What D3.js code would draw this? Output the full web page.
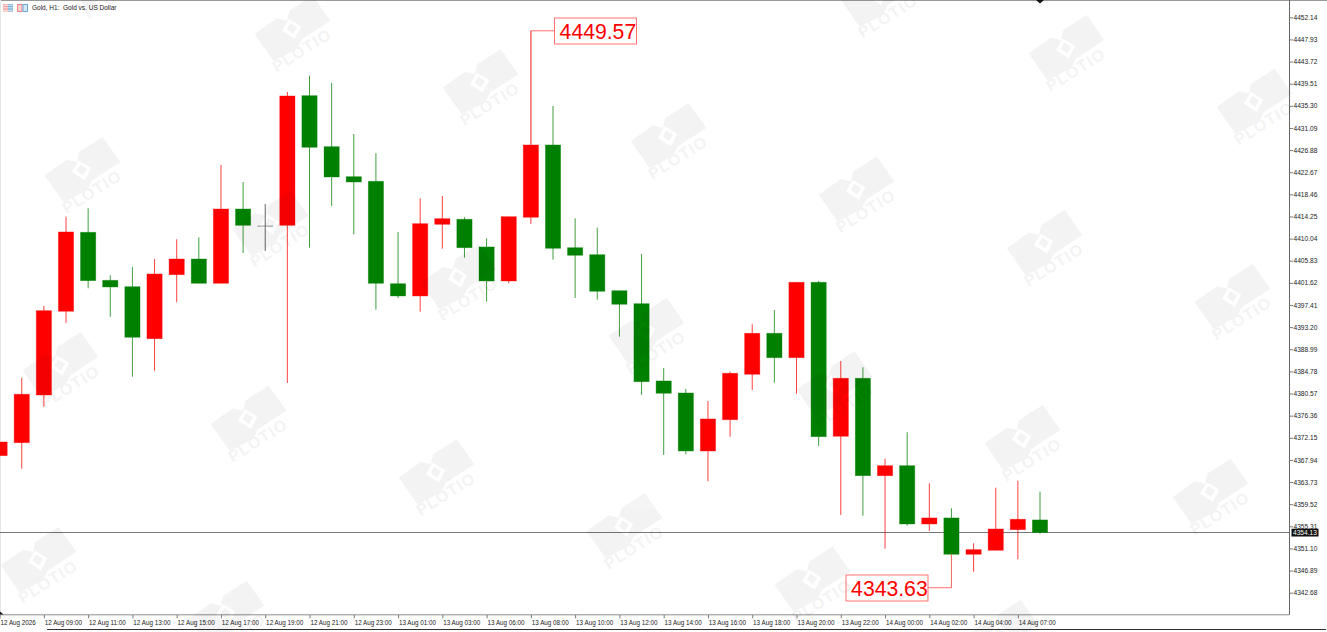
<!DOCTYPE html>
<html lang="en">
	<head>
		<meta charset="utf-8">
		<title>Gold, H1</title>
		<script src="https://cdn.jsdelivr.net/npm/d3@7"></script>
		<style type="text/css">
			html, body { margin: 0; padding: 0; background: #fff; overflow: hidden; }
			svg { display: block; }
			text { font-family: "Liberation Sans", Arial, sans-serif; }
			.axis text { font-size: 6.6px; fill: #222; }
			.xaxis text { font-size: 6.3px; }
			.axis line { stroke: #555; stroke-width: 0.8; }
			.axis path { display: none; }
		</style>
	</head>
	<body>
		<div id="chart"></div>
		<script type="text/javascript">

			// values, one candle per hour
			var opens = [4368.75, 4371.22, 4380.29, 4396.22, 4411.24, 4402.11, 4400.89, 4391.00, 4403.18, 4406.16,
				4401.54, 4415.67, 4412.44, 4412.57, 4437.23, 4427.53, 4421.82, 4420.94, 4401.46, 4399.13,
				4412.76, 4413.72, 4408.45, 4401.98, 4414.10, 4427.85, 4408.31, 4406.98, 4400.13, 4397.66,
				4382.96, 4380.67, 4369.64, 4375.59, 4384.23, 4392.03, 4387.39, 4401.73, 4372.44, 4383.47,
				4364.94, 4366.84, 4355.75, 4356.90, 4349.99, 4350.75, 4354.67, 4356.52];
			var closes = [4371.35, 4380.43, 4396.33, 4411.30, 4402.04, 4400.84, 4391.27, 4403.31, 4406.16, 4401.54,
				4415.67, 4412.57, 4412.44, 4437.17, 4427.41, 4421.76, 4420.81, 4401.54, 4399.13, 4412.88,
				4413.83, 4408.31, 4401.98, 4414.21, 4427.85, 4408.20, 4406.87, 4400.02, 4397.55, 4382.82,
				4380.62, 4369.64, 4375.73, 4384.42, 4392.03, 4387.39, 4401.73, 4372.36, 4383.47, 4364.94,
				4366.84, 4355.75, 4356.90, 4349.99, 4350.87, 4354.80, 4356.65, 4354.13];
			var highs = [4371.35, 4383.58, 4397.22, 4414.21, 4415.81, 4403.06, 4404.64, 4406.16, 4409.91, 4410.29,
				4424.04, 4420.81, 4416.63, 4437.93, 4441.03, 4439.64, 4429.94, 4426.27, 4411.30, 4417.71,
				4418.15, 4414.10, 4410.10, 4414.21, 4449.57, 4435.27, 4413.91, 4412.12, 4400.13, 4407.11,
				4385.43, 4381.43, 4379.15, 4384.73, 4393.74, 4396.46, 4401.73, 4401.98, 4386.76, 4385.56,
				4368.18, 4373.20, 4363.50, 4358.74, 4352.08, 4362.66, 4363.99, 4361.90];
			var lows = [4368.75, 4366.27, 4378.07, 4393.99, 4400.59, 4395.19, 4383.77, 4384.92, 4397.93, 4401.54,
				4401.54, 4407.30, 4407.69, 4382.58, 4408.31, 4416.25, 4410.86, 4396.52, 4398.74, 4396.14,
				4408.12, 4406.41, 4398.04, 4401.54, 4412.82, 4406.03, 4398.74, 4398.42, 4391.38, 4380.29,
				4368.88, 4369.01, 4363.88, 4372.36, 4381.24, 4382.63, 4380.54, 4370.59, 4357.47, 4357.33,
				4351.06, 4355.43, 4354.42, 4343.63, 4346.68, 4350.75, 4349.04, 4353.90];

			var timeLabels = ["12 Aug 2026", "12 Aug 09:00", "12 Aug 11:00", "12 Aug 13:00", "12 Aug 15:00", "12 Aug 17:00",
				"12 Aug 19:00", "12 Aug 21:00", "12 Aug 23:00", "13 Aug 01:00", "13 Aug 03:00", "13 Aug 06:00",
				"13 Aug 08:00", "13 Aug 10:00", "13 Aug 12:00", "13 Aug 14:00", "13 Aug 16:00", "13 Aug 18:00",
				"13 Aug 20:00", "13 Aug 22:00", "14 Aug 00:00", "14 Aug 02:00", "14 Aug 04:00", "14 Aug 07:00"];
			var priceTicks = [4452.14, 4447.93, 4443.72, 4439.51, 4435.30, 4431.09, 4426.88, 4422.67, 4418.46,
				4414.25, 4410.04, 4405.83, 4401.62, 4397.41, 4393.20, 4388.99, 4384.78, 4380.57,
				4376.36, 4372.15, 4367.94, 4363.73, 4359.52, 4355.31, 4351.10, 4346.89, 4342.68];
			var lastPrice = 4354.13;
			var maxPrice = 4449.57;
			var minPrice = 4343.63;
			var title = "Gold, H1:  Gold vs. US Dollar";

			var w = 1327;
			var h = 632;
			var plotRight = 1289.5;
			var plotBottom = 614.8;
			var red = "#ff0000";
			var green = "#008000";

			var xScale = d3.scaleLinear().domain([0, opens.length - 1]).range([-0.4, 1040]);
			var yScale = d3.scaleLinear().domain([4452.14, 4342.68]).range([17.3, 592.7]);

			var svg = d3.select("#chart").append("svg").attr("width", w).attr("height", h);

			// window edges
			svg.append("rect").attr("width", w).attr("height", 1).attr("fill", "#999");
			svg.append("rect").attr("width", 1).attr("height", plotBottom).attr("fill", "#e6e6e6");
			svg.append("rect").attr("x", 47).attr("y", 629).attr("width", 1279).attr("height", 1).attr("fill", "#333");

			// last price line goes under the candles
			svg.append("line")
				.attr("x1", 0).attr("x2", plotRight)
				.attr("y1", yScale(lastPrice)).attr("y2", yScale(lastPrice))
				.attr("stroke", "#777").attr("stroke-width", 1);

			var candles = svg.selectAll("g.candle")
				.data(opens)
				.enter()
				.append("g")
				.attr("class", "candle");

			function candleColor(i) {
				if (closes[i] > opens[i]) return red;
				if (closes[i] < opens[i]) return green;
				return "#333";
			}

			candles.append("line")
				.attr("x1", function (d, i) { return xScale(i); })
				.attr("x2", function (d, i) { return xScale(i); })
				.attr("y1", function (d, i) { return yScale(highs[i]); })
				.attr("y2", function (d, i) { return yScale(lows[i]); })
				.attr("stroke", function (d, i) { return candleColor(i); })
				.attr("stroke-opacity", 0.75)
				.attr("stroke-width", 1);

			// the doji has no body height, so it gets a hair of height or the stroke is not drawn
			candles.append("rect")
				.attr("x", function (d, i) { return xScale(i) - 7.6; })
				.attr("y", function (d, i) { return yScale(Math.max(opens[i], closes[i])); })
				.attr("width", 15.2)
				.attr("height", function (d, i) { return Math.max(Math.abs(yScale(opens[i]) - yScale(closes[i])), 0.1); })
				.attr("fill", function (d, i) { return candleColor(i); })
				.attr("stroke", function (d, i) { return candleColor(i); })
				.attr("stroke-opacity", 0.45)
				.attr("stroke-width", 0.8);

			// the two labelled extremes
			function callout(index, value, boxLeft, boxTop, boxWidth, boxHeight, tipY, boxSide) {
				var y = yScale(value);
				var x = xScale(index);
				svg.append("path")
					.attr("d", "M" + x + "," + tipY + "V" + y + "H" + boxSide)
					.attr("fill", "none").attr("stroke", "#ff7070").attr("stroke-width", 1);
				svg.append("rect")
					.attr("x", boxLeft).attr("y", boxTop)
					.attr("width", boxWidth).attr("height", boxHeight)
					.attr("fill", "#fff").attr("stroke", "#ff7070").attr("stroke-width", 1);
				svg.append("text")
					.attr("x", boxLeft + boxWidth / 2 + 2.4).attr("y", boxTop + boxHeight / 2 + 7.8)
					.attr("text-anchor", "middle")
					.attr("font-size", "21.2px")
					.attr("fill", red)
					.text(value.toFixed(2));
			}
			var maxIndex = highs.indexOf(maxPrice);
			var minIndex = lows.indexOf(minPrice);
			callout(maxIndex, maxPrice, 554.5, 18, 82, 26, yScale(closes[maxIndex]), 554.5);
			callout(minIndex, minPrice, 846, 575, 82, 26, yScale(closes[minIndex]), 928);

			// axes
			var yAxis = d3.axisRight(yScale)
				.tickValues(priceTicks)
				.tickSize(3.5)
				.tickPadding(0.5)
				.tickFormat(d3.format(".2f"));
			var yG = svg.append("g").attr("class", "axis").attr("transform", "translate(" + plotRight + ",0)").call(yAxis);
			yG.selectAll("text").attr("x", 4);

			var xAxis = d3.axisBottom(xScale)
				.tickValues(timeLabels.map(function (d, i) { return i * 2; }))
				.tickSize(3.5)
				.tickFormat(function (d) { return timeLabels[d / 2]; });
			var xG = svg.append("g").attr("class", "axis xaxis").attr("transform", "translate(0," + plotBottom + ")").call(xAxis);
			xG.selectAll("text").attr("text-anchor", "start").attr("x", 0.4).attr("y", 5.4);

			svg.append("line").attr("x1", 0).attr("x2", plotRight).attr("y1", plotBottom).attr("y2", plotBottom)
				.attr("stroke", "#8c8c8c").attr("stroke-width", 1);
			svg.append("line").attr("x1", plotRight).attr("x2", plotRight).attr("y1", 0).attr("y2", plotBottom)
				.attr("stroke", "#666").attr("stroke-width", 1);

			// last price tag
			svg.append("rect")
				.attr("x", 1291.5).attr("y", yScale(lastPrice) - 3.8)
				.attr("width", 27).attr("height", 7.8).attr("fill", "#111");
			svg.append("text")
				.attr("x", 1293).attr("y", yScale(lastPrice) + 2.4)
				.attr("font-size", "6.6px").attr("fill", "#fff")
				.text(lastPrice.toFixed(2));

			// little markers on the frame
			svg.append("path").attr("d", "M1036,0H1044L1040,3.5Z").attr("fill", "#111");
			svg.append("path").attr("d", "M0,611.5L3.5,614.5H0Z").attr("fill", "#111");

			// header
			var menu = svg.append("g").attr("transform", "translate(3,4)");
			menu.append("rect").attr("width", 10).attr("height", 7.5).attr("fill", "#f5a3a3");
			menu.append("rect").attr("x", 5).attr("width", 5).attr("height", 7.5).attr("fill", "#7fb3dc");
			menu.selectAll("line.row").data(d3.range(3)).enter().append("line").attr("class", "row")
				.attr("x1", 0).attr("x2", 10)
				.attr("y1", function (d) { return 1.3 + d * 2.5; })
				.attr("y2", function (d) { return 1.3 + d * 2.5; })
				.attr("stroke", "#fff").attr("stroke-width", 0.7);
			var bars = svg.append("g").attr("transform", "translate(17,4)");
			bars.append("rect").attr("x", 0.5).attr("y", 0.5).attr("width", 4.5).attr("height", 7)
				.attr("fill", "#fbd3d3").attr("stroke", "#ea7f7f").attr("stroke-width", 0.9);
			bars.append("rect").attr("x", 6).attr("y", 0.5).attr("width", 4.5).attr("height", 7)
				.attr("fill", "#d5e8f6").attr("stroke", "#5aa2d8").attr("stroke-width", 0.9);
			svg.append("text")
				.attr("x", 32).attr("y", 9.6)
				.attr("font-size", "6.5px").attr("fill", "#222")
				.style("white-space", "pre")
				.text(title);

			// watermark tiles, laid over everything so they tint the candles too
			var stepA = [188, 53.6];
			var stepB = [-22, 195];
			var origin = [292, 28];
			var tiles = [];
			d3.range(-3, 5).forEach(function (r) {
				d3.range(-4, 8).forEach(function (c) {
					var tx = origin[0] + c * stepA[0] + r * stepB[0];
					var ty = origin[1] + c * stepA[1] + r * stepB[1];
					if (tx > -40 && tx < w + 40 && ty > -35 && ty < h + 35) tiles.push([tx, ty]);
				});
			});
			// outer shape, then the ring around the little square is cut out by evenodd
			var logoPath = "M-37.3,5.9L-15,-9.7L-5,-7.3L-2.7,-17.3L20.7,-32.3L38.3,-7.3L10,11L5,20.7L-18.3,33Z"
				+ "M-10,2.7L-3.3,-9L9.3,-1.3L2.7,11Z"
				+ "M-5.3,1L-1.7,-5L5,-0.7L1,6Z";
			var marks = svg.append("g").attr("class", "watermark").selectAll("g")
				.data(tiles)
				.enter()
				.append("g")
				.attr("transform", function (d) { return "translate(" + d[0] + "," + d[1] + ")"; })
				.attr("opacity", 0.045);
			marks.append("path").attr("d", logoPath).attr("fill", "#000").attr("fill-rule", "evenodd");
			marks.append("text")
				.attr("transform", "translate(12.7,27) rotate(-32)")
				.attr("text-anchor", "middle")
				.attr("font-size", "16px")
				.attr("letter-spacing", "1.2px")
				.attr("font-weight", "bold")
				.attr("fill", "#000")
				.text("PLOTIO");

		</script>
	</body>
</html>
